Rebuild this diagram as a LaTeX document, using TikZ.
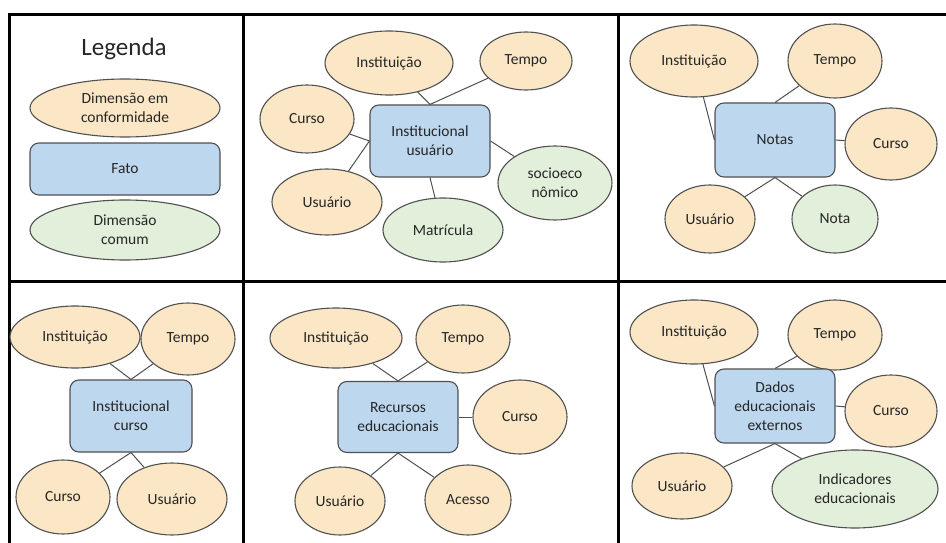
\documentclass[tikz,border=0pt]{standalone}
\usepackage{fontspec}
\setmainfont{Carlito}
\usetikzlibrary{shapes.geometric}
\definecolor{cyel}{HTML}{FBE7C6}
\definecolor{cgrn}{HTML}{E2EFDA}
\definecolor{cblu}{HTML}{BDD7EE}
\definecolor{cedge}{HTML}{505050}
\definecolor{ctxt}{HTML}{262626}
\tikzset{
  base/.style={draw=cedge, line width=1.1pt, inner sep=0pt, align=center, text=ctxt,
    font=\fontsize{15.5}{19}\selectfont},
  dimc/.style={base, ellipse, fill=cyel},
  dimm/.style={base, ellipse, fill=cgrn},
  fato/.style={base, rectangle, rounded corners=9pt, fill=cblu},
  lnk/.style={draw=cedge, line width=1pt},
  gridline/.style={draw=black, line width=3pt}
}
\begin{document}
\begin{tikzpicture}[x=1pt, y=-1pt]
\useasboundingbox[fill=white] (0,0) rectangle (946,543);
% grid
\draw[gridline] (946,14.3) -| (9.5,543);
\draw[gridline] (9.5,281) -- (946,281);
\draw[gridline] (243,14.3) -- (243,543);
\draw[gridline] (618,14.3) -- (618,543);
% panel 1: legend
\node[text=ctxt, font=\fontsize{25}{30}\selectfont] (leg) at (124,49) {Legenda};
\node[dimc, minimum width=190, minimum height=58] (l1) at (125,108) {Dimensão em\\conformidade};
\node[fato, minimum width=190, minimum height=52] (l2) at (125,169) {Fato};
\node[dimm, minimum width=190, minimum height=60] (l3) at (125,230) {Dimensão\\comum};
% panel 2
\node[dimc, minimum width=128, minimum height=64] (p2i) at (389,63) {Instituição};
\node[dimc, minimum width=92, minimum height=58] (p2t) at (526,61) {Tempo};
\node[dimc, minimum width=94, minimum height=68] (p2c) at (307,119) {Curso};
\node[fato, minimum width=120, minimum height=72] (p2f) at (430,141) {Institucional\\usuário};
\node[dimc, minimum width=110, minimum height=66] (p2u) at (327,202) {Usuário};
\node[dimm, minimum width=120, minimum height=64] (p2m) at (443,230) {Matrícula};
\node[dimm, minimum width=114, minimum height=74] (p2s) at (555,183) {socioeco\\nômico};
\draw[lnk] (p2i) -- (p2f.north);
\draw[lnk] (p2t) -- (p2f.north);
\draw[lnk] (p2c) -- (p2f.west);
\draw[lnk] (p2u) -- (p2f.west);
\draw[lnk] (p2m) -- (p2f.south);
\draw[lnk] (p2s) -- (p2f.east);
% panel 3
\node[dimc, minimum width=128, minimum height=72] (p3i) at (694,61) {Instituição};
\node[dimc, minimum width=94, minimum height=74] (p3t) at (835,61) {Tempo};
\node[fato, minimum width=120, minimum height=74] (p3f) at (775,140) {Notas};
\node[dimc, minimum width=92, minimum height=72] (p3c) at (891,144) {Curso};
\node[dimc, minimum width=90, minimum height=68] (p3u) at (710,219) {Usuário};
\node[dimm, minimum width=86, minimum height=68] (p3n) at (835,219) {Nota};
\draw[lnk] (p3i) -- (p3f.west);
\draw[lnk] (p3t) -- (p3f.north);
\draw[lnk] (p3c) -- (p3f.east);
\draw[lnk] (p3u) -- (p3f.south);
\draw[lnk] (p3n) -- (p3f.south);
% panel 4
\node[dimc, minimum width=130, minimum height=62] (p4i) at (75,337) {Instituição};
\node[dimc, minimum width=94, minimum height=72] (p4t) at (188,339) {Tempo};
\node[fato, minimum width=122, minimum height=72] (p4f) at (131,416) {Institucional\\curso};
\node[dimc, minimum width=94, minimum height=74] (p4c) at (63,497) {Curso};
\node[dimc, minimum width=110, minimum height=72] (p4u) at (172,499) {Usuário};
\draw[lnk] (p4i) -- (p4f.north);
\draw[lnk] (p4t) -- (p4f.north);
\draw[lnk] (p4c) -- (p4f.south);
\draw[lnk] (p4u) -- (p4f.south);
% panel 5
\node[dimc, minimum width=132, minimum height=60] (p5i) at (336,338) {Instituição};
\node[dimc, minimum width=94, minimum height=68] (p5t) at (463,339) {Tempo};
\node[fato, minimum width=120, minimum height=71] (p5f) at (398,417) {Recursos\\educacionais};
\node[dimc, minimum width=94, minimum height=74] (p5c) at (520,417) {Curso};
\node[dimc, minimum width=90, minimum height=68] (p5u) at (340,501) {Usuário};
\node[dimc, minimum width=86, minimum height=70] (p5a) at (468,500) {Acesso};
\draw[lnk] (p5i) -- (p5f.north);
\draw[lnk] (p5t) -- (p5f.north);
\draw[lnk] (p5c) -- (p5f.east);
\draw[lnk] (p5u) -- (p5f.south);
\draw[lnk] (p5a) -- (p5f.south);
% panel 6
\node[dimc, minimum width=128, minimum height=64] (p6i) at (694,332) {Instituição};
\node[dimc, minimum width=94, minimum height=70] (p6t) at (835,335) {Tempo};
\node[fato, minimum width=120, minimum height=74] (p6f) at (775,406) {Dados\\educacionais\\externos};
\node[dimc, minimum width=92, minimum height=72] (p6c) at (891,411) {Curso};
\node[dimc, minimum width=100, minimum height=66] (p6u) at (682,486) {Usuário};
\node[dimm, minimum width=166, minimum height=78] (p6d) at (855,489) {Indicadores\\educacionais};
\draw[lnk] (p6i) -- (p6f.west);
\draw[lnk] (p6t) -- (p6f.north);
\draw[lnk] (p6c) -- (p6f.east);
\draw[lnk] (p6u) -- (p6f.south);
\draw[lnk] (p6d) -- (p6f.south);
\end{tikzpicture}
\end{document}
